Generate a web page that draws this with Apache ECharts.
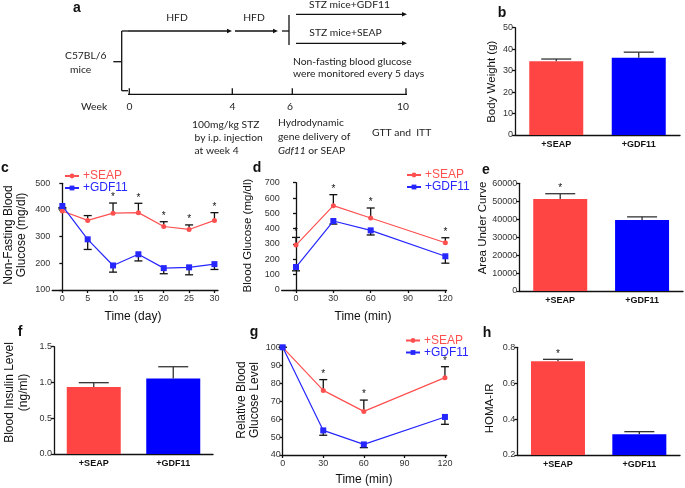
<!DOCTYPE html>
<html><head><meta charset="utf-8">
<script src="https://cdn.jsdelivr.net/npm/echarts@6/dist/echarts.min.js"></script>
<style>html,body{margin:0;padding:0;background:#fff}#c{width:685px;height:488px}</style>
</head><body><div id="c"></div>
<script>
// ---------- data ----------
const groups = ['+SEAP', '+GDF11'];
// b: body weight (g)
const bodyWeight = [34.4, 36.0];
const bodyWeightErr = [35.4, 38.6];
const bStars = [];
// c: non-fasting blood glucose (mg/dl) vs day
const cDays = [0, 5, 10, 15, 20, 25, 30];
const cSeap = [396, 361, 388, 390, 338, 327, 361];
const cSeapErr = [404, 379, 426, 425, 356, 344, 390];
const cGdf = [415, 290, 192, 234, 182, 185, 197];
const cGdfErr = [409, 252, 167, 209, 161, 157, 177];
const cStars = [10, 15, 20, 25, 30];
// d: GTT blood glucose (mg/dl) vs min
const dTimes = [0, 30, 60, 120];
const dTicks = [0, 30, 60, 90, 120];
const dSeap = [293, 550, 470, 308];
const dSeapErr = [343, 622, 535, 341];
const dGdf = [150, 450, 389, 220];
const dGdfErr = [125, 430, 359, 175];
const dStars = [0, 30, 60, 120];
// e: area under curve
const auc = [51200, 39500];
const aucErr = [54200, 41300];
const eStars = [0];
// f: blood insulin (ng/ml)
const insulin = [0.935, 1.057];
const insulinErr = [0.997, 1.22];
const fStars = [];
// g: ITT relative blood glucose
const gTimes = [0, 30, 60, 120];
const gSeap = [100, 76, 64.3, 83.1];
const gSeapErr = [100, 82, 70.6, 89.2];
const gGdf = [100, 53.7, 45.9, 61.2];
const gGdfErr = [100, 51, 44.1, 57.1];
const gStars = [30, 60, 120];
// h: HOMA-IR
const homa = [0.722, 0.315];
const homaErr = [0.733, 0.33];
const hStars = [0];

// ---------- styles ----------
const F = 'Liberation Sans, Arial, sans-serif';
const RED_BAR = '#FF4444', BLUE_BAR = '#0000FF';
const RED_LINE = '#FF5050', BLUE_LINE = '#2626FF';
const barColors = [RED_BAR, BLUE_BAR];
const AX = {color: '#111', width: 1.3};

const chart = echarts.init(document.getElementById('c'), null, {renderer: 'canvas'});

const grids = [
  {left: 515, top: 27.7, width: 165, height: 107.3},   // b
  {left: 52.2, top: 183.3, width: 165.8, height: 106.7},// c
  {left: 281.7, top: 182.7, width: 164.9, height: 107.3},// d
  {left: 519.3, top: 183.3, width: 163.7, height: 107.7},// e
  {left: 54, top: 346.7, width: 159, height: 107.3},   // f
  {left: 282.7, top: 347.3, width: 164, height: 107.7},// g
  {left: 517.3, top: 347.3, width: 162.7, height: 107.7} // h
];

function yAxis(gi, min, max, interval, fmt) {
  return {type: 'value', gridIndex: gi, min, max, interval,
    axisLine: {show: true, lineStyle: AX},
    axisTick: {show: true, length: 3, lineStyle: AX},
    axisLabel: {fontSize: 9, color: '#333', margin: 2, fontFamily: F, formatter: fmt || (v => String(v))},
    splitLine: {show: false}};
}
function catAxis(gi) {
  return {type: 'category', gridIndex: gi, data: groups,
    axisLine: {show: true, lineStyle: AX}, axisTick: {show: false},
    axisLabel: {fontSize: 9, fontWeight: 'bold', color: '#111', margin: 5, fontFamily: F}};
}
function numXAxis(gi, min, max, ticks) {
  return {type: 'value', gridIndex: gi, min, max,
    axisLine: {show: true, lineStyle: AX, onZero: false},
    axisTick: {show: true, length: 3, lineStyle: AX, customValues: ticks},
    axisLabel: {fontSize: 9, color: '#333', margin: 4, fontFamily: F, customValues: ticks},
    splitLine: {show: false}};
}

const xAxes = [
  catAxis(0),
  numXAxis(1, -2, 30.7, cDays),
  numXAxis(2, -11.5, 121, dTicks),
  catAxis(3),
  catAxis(4),
  numXAxis(5, 0, 121.3, dTicks),
  catAxis(6)
];
const yAxes = [
  yAxis(0, 0, 50, 10),
  yAxis(1, 100, 500, 100),
  yAxis(2, 0, 700, 100),
  yAxis(3, 0, 60000, 10000),
  yAxis(4, 0, 1.5, 0.5, v => v.toFixed(1)),
  yAxis(5, 40, 100, 10),
  yAxis(6, 0.2, 0.8, 0.2, v => v.toFixed(1))
];

// error bar (value -> error end) with cap
function errRender(cap, color) {
  return function (params, api) {
    const x = api.value(0), y = api.value(1), e = api.value(2);
    const p0 = api.coord([x, y]), p1 = api.coord([x, e]);
    const st = {stroke: color, lineWidth: 1.3};
    return {type: 'group', children: [
      {type: 'line', shape: {x1: p0[0], y1: p0[1], x2: p1[0], y2: p1[1]}, style: st},
      {type: 'line', shape: {x1: p1[0] - cap / 2, y1: p1[1], x2: p1[0] + cap / 2, y2: p1[1]}, style: st}
    ]};
  };
}

const series = [];
const starPts = []; // [gridIndex, x, y]
function addBars(gi, vals, errs, stars) {
  series.push({type: 'bar', name: 'bar' + gi, xAxisIndex: gi, yAxisIndex: gi, barWidth: 54, silent: true,
    data: vals.map((v, i) => ({value: v, itemStyle: {color: barColors[i]}}))});
  series.push({type: 'custom', name: 'barErr' + gi, xAxisIndex: gi, yAxisIndex: gi, silent: true, z: 3,
    renderItem: errRender(30, '#333'), data: vals.map((v, i) => [i, v, errs[i]])});
  stars.forEach(i => starPts.push([gi, i, errs[i]]));
}
function addLines(gi, xs, seap, seapErr, gdf, gdfErr, stars) {
  series.push({type: 'custom', name: 'errS' + gi, xAxisIndex: gi, yAxisIndex: gi, silent: true, z: 1,
    renderItem: errRender(8, '#111'), data: xs.map((x, i) => [x, seap[i], seapErr[i]])});
  series.push({type: 'custom', name: 'errG' + gi, xAxisIndex: gi, yAxisIndex: gi, silent: true, z: 1,
    renderItem: errRender(8, '#111'), data: xs.map((x, i) => [x, gdf[i], gdfErr[i]])});
  series.push({type: 'line', name: '+SEAP', xAxisIndex: gi, yAxisIndex: gi, silent: true, z: 2,
    symbol: 'circle', symbolSize: 5, color: RED_LINE, lineStyle: {width: 1.2, color: RED_LINE},
    itemStyle: {color: RED_LINE}, data: xs.map((x, i) => [x, seap[i]])});
  series.push({type: 'line', name: '+GDF11', xAxisIndex: gi, yAxisIndex: gi, silent: true, z: 2,
    symbol: 'rect', symbolSize: 6, color: BLUE_LINE, lineStyle: {width: 1.2, color: BLUE_LINE},
    itemStyle: {color: BLUE_LINE}, data: xs.map((x, i) => [x, gdf[i]])});
  stars.forEach(x => starPts.push([gi, x, seapErr[xs.indexOf(x)]]));
}

addBars(0, bodyWeight, bodyWeightErr, bStars);
addLines(1, cDays, cSeap, cSeapErr, cGdf, cGdfErr, cStars);
addLines(2, dTimes, dSeap, dSeapErr, dGdf, dGdfErr, dStars);
addBars(3, auc, aucErr, eStars);
addBars(4, insulin, insulinErr, fStars);
addLines(5, gTimes, gSeap, gSeapErr, gGdf, gGdfErr, gStars);
addBars(6, homa, homaErr, hStars);

function legend(left, top) {
  return {orient: 'vertical', left, top, itemWidth: 14, itemHeight: 6, itemGap: 0, padding: 0,
    selectedMode: false,
    textStyle: {fontSize: 12, lineHeight: 12, fontFamily: F, padding: [0, 0, 0, -1]},
    data: [{name: '+SEAP', textStyle: {color: RED_LINE}}, {name: '+GDF11', textStyle: {color: BLUE_LINE}}]};
}

// ---------- panel a and annotations ----------
const G = [];
const TF = 'Lato, "Open Sans", sans-serif';
const TS = 10.3;
function txt(x, y, s, opt) {
  G.push({type: 'text', x, y, silent: true, style: Object.assign({text: s, fontSize: TS, fontFamily: TF, fill: '#222', align: 'left', verticalAlign: 'middle'}, opt || {})});
}
function ln(x1, y1, x2, y2) {
  G.push({type: 'line', silent: true, shape: {x1, y1, x2, y2}, style: {stroke: '#111', lineWidth: 1.3}});
}
function arrow(x1, y, x2) {
  ln(x1, y, x2 - 3, y);
  G.push({type: 'polygon', silent: true, shape: {points: [[x2, y], [x2 - 5, y - 2.3], [x2 - 5, y + 2.3]]}, style: {fill: '#111'}});
}
function vtxt(x, y, s, size) {
  G.push({type: 'text', x, y, rotation: Math.PI / 2, silent: true,
    style: {text: s, fontSize: size || 11.5, fontFamily: F, fill: '#111', align: 'center', verticalAlign: 'middle', lineHeight: 13.5}});
}
function letter(x, y, s) {
  G.push({type: 'text', x, y, silent: true, style: {text: s, fontSize: 14, fontWeight: 'bold', fontFamily: F, fill: '#111', align: 'center', verticalAlign: 'middle'}});
}

// panel a
txt(177, 18, 'HFD', {align: 'center'});
txt(254, 18, 'HFD', {align: 'center'});
arrow(128, 31, 232);
arrow(235, 31, 278);
ln(282, 31, 289, 31);
ln(289, 15, 289, 45);
arrow(296, 14.3, 407);
arrow(296, 43.3, 407);
txt(349.5, 5, 'STZ mice+GDF11', {align: 'center'});
txt(345.5, 33, 'STZ mice+SEAP', {align: 'center'});
txt(293, 62, 'Non-fasting blood glucose');
txt(293, 74, 'were monitored every 5 days');
ln(121.7, 31, 121.7, 90.7);
ln(121.7, 31, 128, 31);
ln(121.7, 90.7, 128, 90.7);
ln(113.3, 61.7, 121.7, 61.7);
txt(65, 56, 'C57BL/6');
txt(70, 70, 'mice');
ln(128, 94.3, 407, 94.3);
[129.3, 232.3, 292.3, 406].forEach(x => ln(x, 88.3, x, 94.3));
txt(81, 107, 'Week');
txt(129.5, 107, '0', {align: 'center'});
txt(232.5, 107, '4', {align: 'center'});
txt(290, 107, '6', {align: 'center'});
txt(403, 107, '10', {align: 'center'});
txt(192, 125, '100mg/kg STZ');
txt(194.5, 137.5, 'by i.p. injection');
txt(194.5, 151, 'at week 4');
txt(278, 123, 'Hydrodynamic');
txt(278, 137, 'gene delivery of');
G.push({type: 'text', x: 278, y: 151, silent: true, style: {text: '{i|Gdf11} or SEAP', fontSize: TS, fontFamily: TF, fill: '#222', verticalAlign: 'middle',
  rich: {i: {fontStyle: 'italic', fontSize: TS, fontFamily: TF, fill: '#222'}}}});
txt(372, 133, 'GTT and  ITT');

// panel letters
letter(77, 8, 'a');
letter(502, 13, 'b');
letter(5, 168.5, 'c');
letter(257, 168.3, 'd');
letter(486, 170.5, 'e');
letter(20, 332.5, 'f');
letter(254, 332, 'g');
letter(487, 333, 'h');

// axis titles
vtxt(492, 81.7, 'Body Weight (g)');
vtxt(15, 235, 'Non-Fasting Blood\nGlucose (mg/dl)', 12);
vtxt(248, 235.5, 'Blood Glucose (mg/dl)');
vtxt(483, 228, 'Area Under Curve');
vtxt(16.5, 392.5, 'Blood Insulin Level\n(ng/ml)', 12);
vtxt(248.3, 400, 'Relative Blood\nGlucose Level', 12);
vtxt(489.5, 408.3, 'HOMA-IR');
G.push({type: 'text', x: 133, y: 317, silent: true, style: {text: 'Time (day)', fontSize: 12, fontFamily: F, fill: '#111', align: 'center', verticalAlign: 'middle'}});
G.push({type: 'text', x: 363, y: 317, silent: true, style: {text: 'Time (min)', fontSize: 12, fontFamily: F, fill: '#111', align: 'center', verticalAlign: 'middle'}});
G.push({type: 'text', x: 364, y: 480, silent: true, style: {text: 'Time (min)', fontSize: 12, fontFamily: F, fill: '#111', align: 'center', verticalAlign: 'middle'}});

chart.setOption({
  animation: false,
  backgroundColor: '#fff',
  grid: grids,
  xAxis: xAxes,
  yAxis: yAxes,
  legend: [legend(64, 170), legend(406, 169), legend(405, 334.5)],
  series,
  graphic: G
});

// significance stars placed through the axes' scales (convertToPixel), on a top layer
const S = starPts.map(([gi, x, y]) => {
  const p = chart.convertToPixel({xAxisIndex: gi, yAxisIndex: gi}, [x, y]);
  return {type: 'text', x: p[0], y: p[1] - 5.5, zlevel: 1, z: 100, silent: true,
    style: {text: '*', fontSize: 10, fontFamily: F, fill: '#111', align: 'center', verticalAlign: 'middle'}};
});
chart.setOption({graphic: {elements: G.concat(S)}});
</script></body></html>
